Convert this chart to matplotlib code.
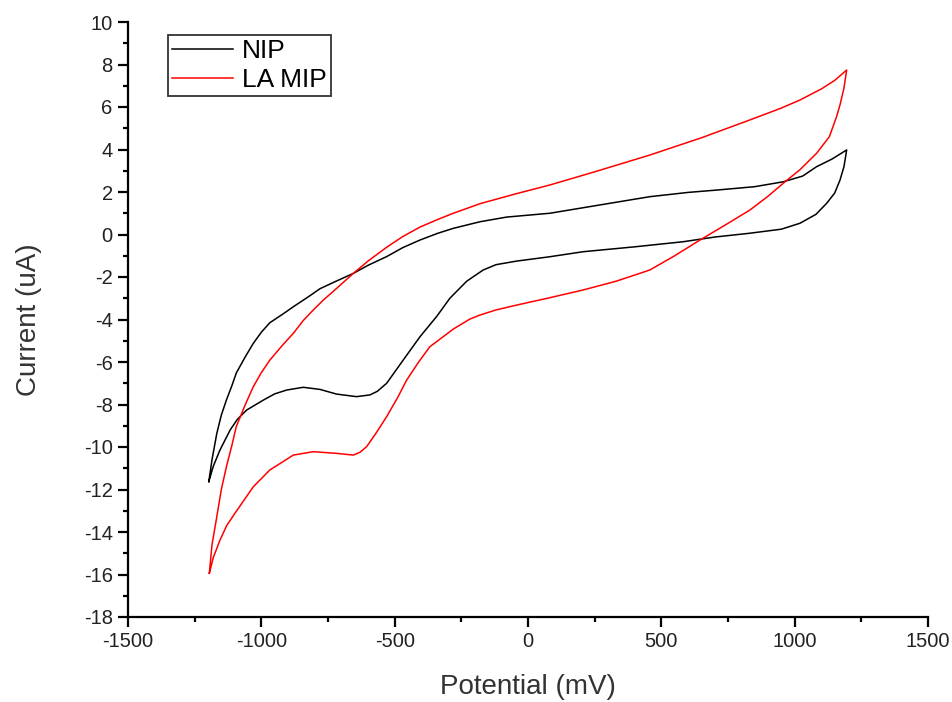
import matplotlib
matplotlib.use("Agg")
import matplotlib.pyplot as plt
from matplotlib.ticker import MultipleLocator

# NIP: forward (anodic) sweep then reverse sweep, potential in mV, current in uA
nip_fwd_x = [-1197, -1185, -1167, -1150, -1131, -1110, -1094, -1060, -1030, -1000, -968, -920, -880, -820, -780, -720, -655, -600, -530, -470, -405, -340, -280, -180, -80, 82, 250, 457, 600, 707, 850, 957, 1030, 1082, 1140, 1195]
nip_fwd_y = [-11.63, -10.6, -9.36, -8.5, -7.79, -7.1, -6.52, -5.75, -5.12, -4.6, -4.15, -3.75, -3.40, -2.9, -2.55, -2.2, -1.83, -1.45, -1.04, -0.62, -0.26, 0.05, 0.29, 0.60, 0.82, 1.0, 1.35, 1.78, 1.98, 2.09, 2.25, 2.48, 2.75, 3.19, 3.55, 3.98]
nip_rev_x = [1195, 1185, 1170, 1150, 1120, 1080, 1020, 950, 832, 700, 582, 400, 207, 80, -42, -120, -168, -230, -293, -342, -405, -468, -530, -565, -593, -643, -718, -780, -843, -905, -950, -992, -1055, -1090, -1117, -1155, -1180, -1197]
nip_rev_y = [3.98, 3.2, 2.56, 1.95, 1.47, 0.95, 0.53, 0.25, 0.06, -0.12, -0.34, -0.58, -0.81, -1.05, -1.25, -1.42, -1.67, -2.2, -3.0, -3.85, -4.81, -5.91, -7.0, -7.38, -7.55, -7.63, -7.51, -7.29, -7.19, -7.32, -7.5, -7.79, -8.26, -8.7, -9.2, -10.14, -10.9, -11.63]

# LA MIP
mip_fwd_x = [-1195, -1185, -1167, -1150, -1131, -1110, -1094, -1060, -1030, -1000, -968, -920, -880, -843, -805, -767, -710, -655, -600, -530, -470, -405, -340, -280, -180, -50, 82, 250, 457, 650, 832, 950, 1020, 1100, 1150, 1195]
mip_fwd_y = [-15.94, -14.6, -13.28, -12.0, -10.93, -9.9, -9.04, -8.0, -7.16, -6.5, -5.91, -5.2, -4.65, -4.05, -3.55, -3.08, -2.45, -1.83, -1.25, -0.6, -0.1, 0.35, 0.7, 1.0, 1.45, 1.9, 2.33, 2.95, 3.74, 4.55, 5.39, 5.95, 6.33, 6.85, 7.25, 7.74]
mip_rev_x = [1195, 1185, 1170, 1157, 1130, 1082, 1020, 957, 900, 832, 740, 645, 550, 457, 330, 207, 80, -42, -120, -180, -218, -280, -368, -410, -455, -490, -530, -570, -605, -630, -655, -718, -805, -880, -920, -968, -1030, -1099, -1130, -1155, -1180, -1195]
mip_rev_y = [7.74, 6.9, 6.1, 5.54, 4.6, 3.82, 3.05, 2.41, 1.8, 1.15, 0.45, -0.26, -1.0, -1.67, -2.2, -2.61, -2.98, -3.32, -3.55, -3.79, -3.98, -4.45, -5.28, -6.0, -6.85, -7.7, -8.57, -9.35, -9.98, -10.25, -10.38, -10.30, -10.22, -10.38, -10.7, -11.08, -11.87, -13.12, -13.7, -14.38, -15.2, -15.94]

series_labels = ["NIP", "LA MIP"]

plt.rcParams['font.family'] = ['Liberation Sans', 'DejaVu Sans']
plt.rcParams['axes.unicode_minus'] = False

fig = plt.figure(figsize=(9.53, 7.02), dpi=100)
ax = fig.add_axes([128/953, 1 - 617/702, 800/953, 595/702])

ax.plot(nip_fwd_x + nip_rev_x, nip_fwd_y + nip_rev_y, color='black', lw=1.1, label=series_labels[0])
ax.plot(mip_fwd_x + mip_rev_x, mip_fwd_y + mip_rev_y, color='#ff0000', lw=1.1, label=series_labels[1])

ax.set_xlim(-1500, 1500)
ax.set_ylim(-18, 10)
ax.xaxis.set_major_locator(MultipleLocator(500))
ax.xaxis.set_minor_locator(MultipleLocator(250))
ax.yaxis.set_major_locator(MultipleLocator(2))
ax.yaxis.set_minor_locator(MultipleLocator(1))

for s in ['top', 'right']:
    ax.spines[s].set_visible(False)
for s in ['left', 'bottom']:
    ax.spines[s].set_linewidth(1.6)

ax.tick_params(which='major', direction='out', length=7, width=1.6, labelsize=14.5, colors='black', pad=4)
ax.tick_params(which='minor', direction='out', length=3.5, width=1.6)
for lab in ax.get_xticklabels() + ax.get_yticklabels():
    lab.set_color('#222222')

ax.set_xlabel("Potential (mV)", fontsize=20, color='#333333', labelpad=16)
ax.set_ylabel("Current (uA)", fontsize=20, color='#333333', labelpad=30)

leg = ax.legend(loc='upper left', bbox_to_anchor=(0.05, 0.978), borderaxespad=0,
                fontsize=19, frameon=True, fancybox=False, handlelength=2.3,
                handletextpad=0.35, borderpad=0.15, labelspacing=0.2)
leg.get_frame().set_edgecolor('black')
leg.get_frame().set_linewidth(1.3)
for line in leg.get_lines():
    line.set_linewidth(1.1)

fig.savefig("out.png", dpi=100)
